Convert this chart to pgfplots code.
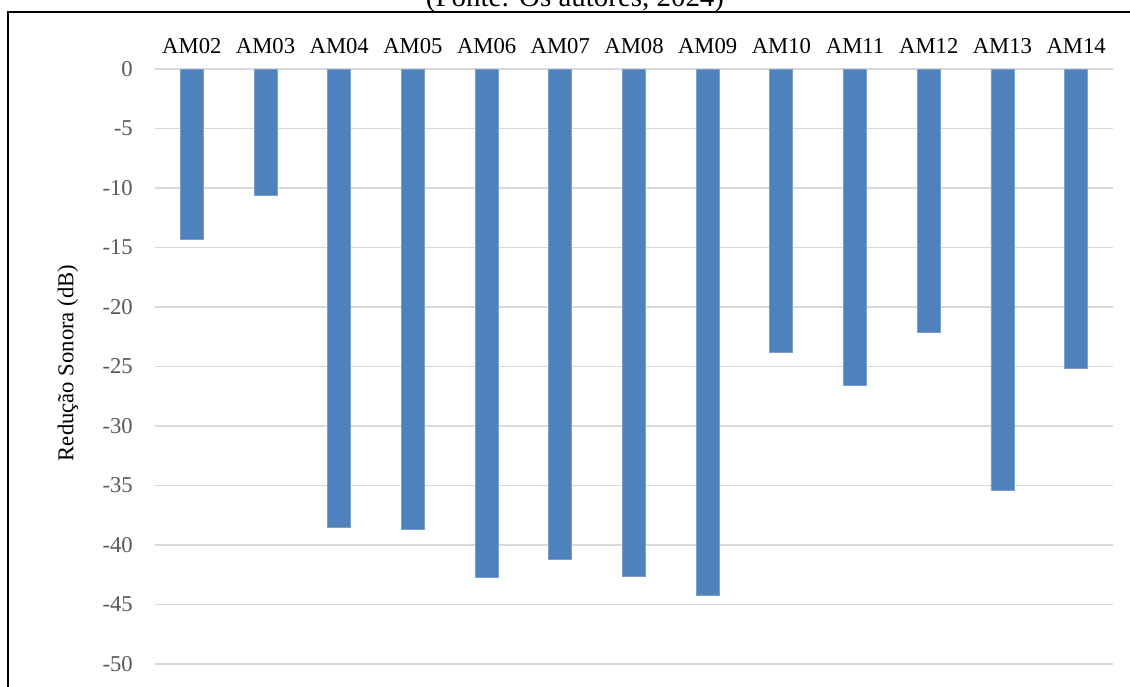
\documentclass[border=0pt]{standalone}
\usepackage{pgfplots}
\pgfplotsset{compat=1.18}
\usepackage{fontspec}
\setmainfont{Liberation Serif}
\definecolor{barblue}{HTML}{4F81BD}
\definecolor{gridgray}{HTML}{D9D9D9}
\definecolor{ticklab}{HTML}{595959}
\begin{document}
\begin{tikzpicture}
\useasboundingbox (-116.25pt,-16.5pt) rectangle (731.25pt,498pt);
\clip (-116.25pt,-16.5pt) rectangle (731.25pt,498pt);
\begin{axis}[
  at={(0pt,0pt)}, anchor=south west,
  scale only axis, width=718.5pt, height=446.25pt,
  xmin=-0.5, xmax=12.5, ymin=-50, ymax=0,
  xtick={0,1,2,3,4,5,6,7,8,9,10,11,12},
  xticklabels={AM02,AM03,AM04,AM05,AM06,AM07,AM08,AM09,AM10,AM11,AM12,AM13,AM14},
  xticklabel pos=upper,
  xticklabel style={font=\fontsize{17}{20}\selectfont, anchor=base, inner sep=0pt, yshift=12pt},
  ytick={-50,-45,-40,-35,-30,-25,-20,-15,-10,-5,0},
  yticklabels={-50,-45,-40,-35,-30,-25,-20,-15,-10,-5,0},
  yticklabel style={font=\fontsize{17}{20}\selectfont, text=ticklab, anchor=east, inner sep=0pt, xshift=-16.5pt},
  ymajorgrids, major grid style={draw=gridgray, line width=1.1pt},
  axis line style={draw=none}, major tick length=0pt,
  ybar, bar width=17.25pt,
  ylabel={Redução Sonora (dB)},
  ylabel style={font=\fontsize{17}{20}\selectfont, at={(axis description cs:-0.0908,0.506)}, anchor=center},
]
\addplot[fill=barblue, draw=barblue!75!white, line width=0.6pt] coordinates {
  (0,-14.3) (1,-10.6) (2,-38.5) (3,-38.7) (4,-42.7) (5,-41.2) (6,-42.6)
  (7,-44.2) (8,-23.8) (9,-26.6) (10,-22.1) (11,-35.4) (12,-25.2)
};
\end{axis}
\draw[line width=1.5pt] (-110.25pt,-30pt) -- (-110.25pt,489pt) -- (760pt,489pt);
\node[anchor=base, inner sep=0pt, font=\fontsize{21.7}{26}\selectfont] at (315pt,493.1pt) {(Fonte: Os autores, 2024)};
\end{tikzpicture}
\end{document}
